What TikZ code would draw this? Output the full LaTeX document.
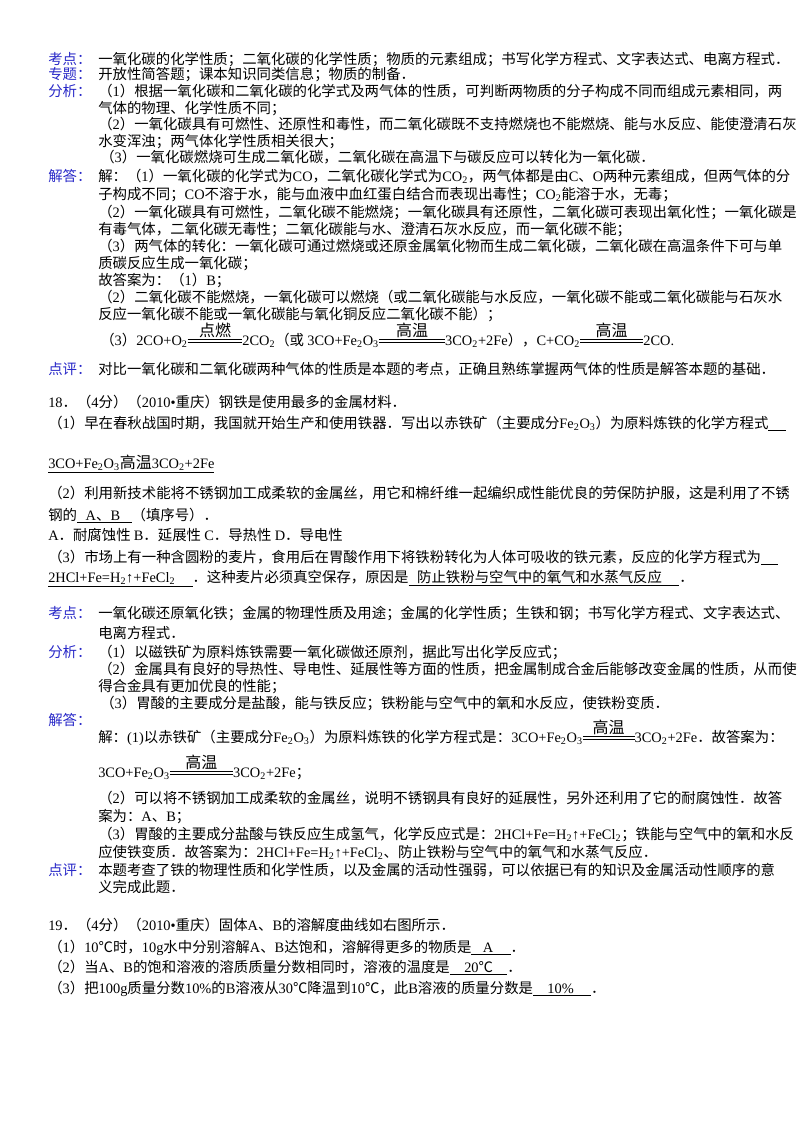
\documentclass[tikz,border=0pt]{standalone}
\usepackage{fontspec}
\setmainfont{Liberation Serif}
\newfontfamily\cjkfont{Noto Sans CJK SC}
\newfontfamily\latfont{Liberation Serif}
\XeTeXinterchartokenstate=1
\newXeTeXintercharclass\cjkcls
\newcount\cc
\cc="3000 \loop \XeTeXcharclass\cc=\cjkcls \ifnum\cc<"303F \advance\cc 1 \repeat
\cc="4E00 \loop \XeTeXcharclass\cc=\cjkcls \ifnum\cc<"9FFF \advance\cc 1 \repeat
\cc="FF00 \loop \XeTeXcharclass\cc=\cjkcls \ifnum\cc<"FFEF \advance\cc 1 \repeat
\XeTeXcharclass"2103=\cjkcls
\XeTeXinterchartoks 0 \cjkcls = {\cjkfont}
\XeTeXinterchartoks 4095 \cjkcls = {\cjkfont}
\XeTeXinterchartoks \cjkcls 0 = {\latfont}
\XeTeXinterchartoks 4095 0 = {\latfont}
\definecolor{labblue}{RGB}{40,40,200}
\newcommand\cnd[2][3.8em]{\raisebox{2pt}{\vbox{\hbox to #1{\hss\large #2\hss}\kern1pt\hrule height .5pt\kern1.3pt\hrule height .5pt}}}
\newcommand\ul[1]{\underline{\hbox{#1}}}
\newcommand\s[1]{\textsubscript{#1}}
\begin{document}
\begin{tikzpicture}[x=0.75pt,y=-0.75pt,
  txt/.style={anchor=base west,inner sep=0pt,font=\latfont\fontsize{10.8}{13}\selectfont},
  lab/.style={txt,text=labblue}]
\fill[white] (0,0) rectangle (800,1132);
\useasboundingbox (0,0) rectangle (800,1132);
% Q17 analysis
\node[lab] (l1) at (48,64) {考点：};
\node[txt] (t1) at (98,64) {一氧化碳的化学性质；二氧化碳的化学性质；物质的元素组成；书写化学方程式、文字表达式、电离方程式．};
\node[lab] (l2) at (48,79) {专题：};
\node[txt] (t2) at (98,79) {开放性简答题；课本知识同类信息；物质的制备．};
\node[lab] (l3) at (48,96) {分析：};
\node[txt] (t3) at (98,96) {（1）根据一氧化碳和二氧化碳的化学式及两气体的性质，可判断两物质的分子构成不同而组成元素相同，两};
\node[txt] (t4) at (98,113) {气体的物理、化学性质不同；};
\node[txt] (t5) at (98,129) {（2）一氧化碳具有可燃性、还原性和毒性，而二氧化碳既不支持燃烧也不能燃烧、能与水反应、能使澄清石灰};
\node[txt] (t6) at (98,146) {水变浑浊；两气体化学性质相关很大；};
\node[txt] (t7) at (100,162) {（3）一氧化碳燃烧可生成二氧化碳，二氧化碳在高温下与碳反应可以转化为一氧化碳．};
\node[lab] (l4) at (48,181) {解答：};
\node[txt] (t8) at (98,181) {解：（1）一氧化碳的化学式为CO，二氧化碳化学式为CO\s{2}，两气体都是由C、O两种元素组成，但两气体的分};
\node[txt] (t9) at (98,199) {子构成不同；CO不溶于水，能与血液中血红蛋白结合而表现出毒性；CO\s{2}能溶于水，无毒；};
\node[txt] (t10) at (98,217) {（2）一氧化碳具有可燃性，二氧化碳不能燃烧；一氧化碳具有还原性，二氧化碳可表现出氧化性；一氧化碳是};
\node[txt] (t11) at (98,234) {有毒气体，二氧化碳无毒性；二氧化碳能与水、澄清石灰水反应，而一氧化碳不能；};
\node[txt] (t12) at (98,251) {（3）两气体的转化：一氧化碳可通过燃烧或还原金属氧化物而生成二氧化碳，二氧化碳在高温条件下可与单};
\node[txt] (t13) at (98,268) {质碳反应生成一氧化碳；};
\node[txt] (t14) at (98,285) {故答案为：（1）B；};
\node[txt] (t15) at (98,302) {（2）二氧化碳不能燃烧，一氧化碳可以燃烧（或二氧化碳能与水反应，一氧化碳不能或二氧化碳能与石灰水};
\node[txt] (t16) at (98,319) {反应一氧化碳不能或一氧化碳能与氧化铜反应二氧化碳不能）；};
\node[txt] (t17) at (100,345) {（3）2CO+O\s{2}\cnd{点燃}2CO\s{2}（或 3CO+Fe\s{2}O\s{3}\cnd[4.6em]{高温}3CO\s{2}+2Fe），C+CO\s{2}\cnd[4.4em]{高温}2CO.};
\node[lab] (l5) at (48,374) {点评：};
\node[txt] (t18) at (98,374) {对比一氧化碳和二氧化碳两种气体的性质是本题的考点，正确且熟练掌握两气体的性质是解答本题的基础．};
% Q18
\node[txt] (q18) at (48,407) {18．（4分）（2010•重庆）钢铁是使用最多的金属材料．};
\node[txt] (a1) at (48,428) {（1）早在春秋战国时期，我国就开始生产和使用铁器．写出以赤铁矿（主要成分Fe\s{2}O\s{3}）为原料炼铁的化学方程式\ul{\hspace{1.2em}}};
\node[txt] (a2) at (48,468) {\ul{3CO+Fe\s{2}O\s{3}{\large 高温}3CO\s{2}+2Fe}};
\node[txt] (a3) at (48,498) {（2）利用新技术能将不锈钢加工成柔软的金属丝，用它和棉纤维一起编织成性能优良的劳保防护服，这是利用了不锈};
\node[txt] (a4) at (48,520) {钢的\ul{\hspace{0.6em}A、B\hspace{0.8em}}（填序号）．};
\node[txt] (a5) at (48,540) {A．耐腐蚀性 B．延展性 C．导热性 D．导电性};
\node[txt] (a6) at (48,562) {（3）市场上有一种含圆粉的麦片，食用后在胃酸作用下将铁粉转化为人体可吸收的铁元素，反应的化学方程式为\ul{\hspace{1.2em}}};
\node[txt] (a7) at (48,582) {\ul{2HCl+Fe=H\s{2}↑+FeCl\s{2}\hspace{1.2em}}．这种麦片必须真空保存，原因是\ul{\hspace{0.6em}防止铁粉与空气中的氧气和水蒸气反应\hspace{1.2em}}．};
\node[lab] (l6) at (48,618) {考点：};
\node[txt] (b1) at (98,618) {一氧化碳还原氧化铁；金属的物理性质及用途；金属的化学性质；生铁和钢；书写化学方程式、文字表达式、};
\node[txt] (b2) at (98,638) {电离方程式．};
\node[lab] (l7) at (48,657) {分析：};
\node[txt] (b3) at (98,657) {（1）以磁铁矿为原料炼铁需要一氧化碳做还原剂，据此写出化学反应式；};
\node[txt] (b4) at (98,674) {（2）金属具有良好的导热性、导电性、延展性等方面的性质，把金属制成合金后能够改变金属的性质，从而使};
\node[txt] (b5) at (98,691) {得合金具有更加优良的性能；};
\node[txt] (b6) at (100,708) {（3）胃酸的主要成分是盐酸，能与铁反应；铁粉能与空气中的氧和水反应，使铁粉变质．};
\node[lab] (l8) at (48,725) {解答：};
\node[txt] (b7) at (98,742) {解：(1)以赤铁矿（主要成分Fe\s{2}O\s{3}）为原料炼铁的化学方程式是：3CO+Fe\s{2}O\s{3}\cnd[3.6em]{高温}3CO\s{2}+2Fe．故答案为：};
\node[txt] (b8) at (98,777) {3CO+Fe\s{2}O\s{3}\cnd[4.4em]{高温}3CO\s{2}+2Fe；};
\node[txt] (b9) at (98,803) {（2）可以将不锈钢加工成柔软的金属丝，说明不锈钢具有良好的延展性，另外还利用了它的耐腐蚀性．故答};
\node[txt] (b10) at (98,821) {案为：A、B；};
\node[txt] (b11) at (98,839) {（3）胃酸的主要成分盐酸与铁反应生成氢气，化学反应式是：2HCl+Fe=H\s{2}↑+FeCl\s{2}；铁能与空气中的氧和水反};
\node[txt] (b12) at (98,857) {应使铁变质．故答案为：2HCl+Fe=H\s{2}↑+FeCl\s{2}、防止铁粉与空气中的氧气和水蒸气反应．};
\node[lab] (l9) at (48,875) {点评：};
\node[txt] (b13) at (98,875) {本题考查了铁的物理性质和化学性质，以及金属的活动性强弱，可以依据已有的知识及金属活动性顺序的意};
\node[txt] (b14) at (98,892) {义完成此题．};
% Q19
\node[txt] (q19) at (48,930) {19．（4分）（2010•重庆）固体A、B的溶解度曲线如右图所示．};
\node[txt] (c1) at (48,952) {（1）10℃时，10g水中分别溶解A、B达饱和，溶解得更多的物质是\ul{\hspace{0.8em}A\hspace{1.2em}}．};
\node[txt] (c2) at (48,972) {（2）当A、B的饱和溶液的溶质质量分数相同时，溶液的温度是\ul{\hspace{1em}20℃\hspace{1em}}．};
\node[txt] (c3) at (48,993) {（3）把100g质量分数10\%的B溶液从30℃降温到10℃，此B溶液的质量分数是\ul{\hspace{1em}10\%\hspace{1.2em}}．};
\end{tikzpicture}
\end{document}
